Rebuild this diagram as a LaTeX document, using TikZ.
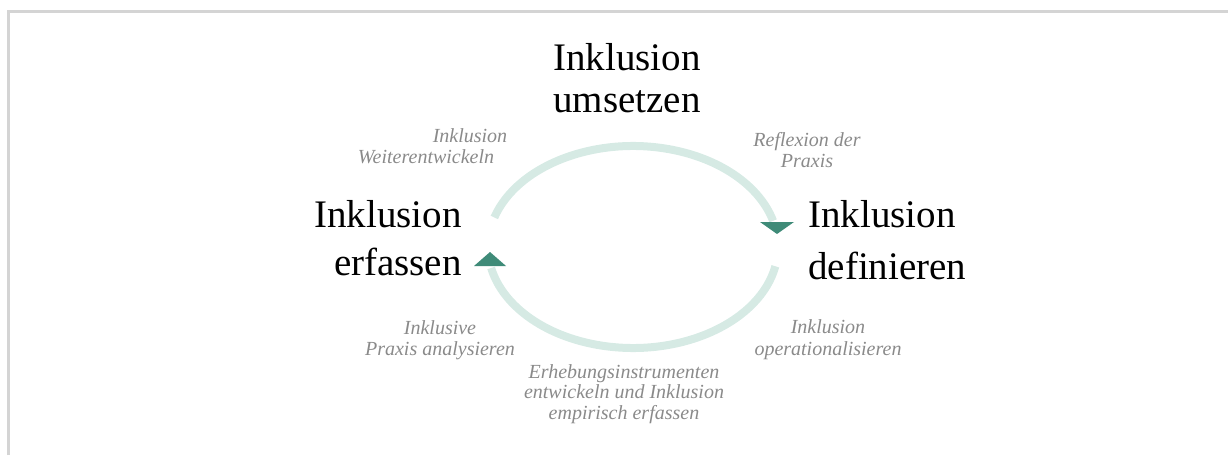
\documentclass[tikz,border=0pt]{standalone}
\usepackage{fontspec}
\setmainfont{Liberation Serif}
\definecolor{ringc}{HTML}{D6EAE4}
\definecolor{arrowc}{HTML}{3F8B78}
\definecolor{labelc}{HTML}{8A8A8A}
\definecolor{framec}{HTML}{D4D4D4}
\tikzset{
  big/.style={font=\fontsize{39}{48}\selectfont, text=black, inner sep=0pt},
  small/.style={font=\fontsize{20}{20.5}\selectfont\itshape, text=labelc, inner sep=0pt, align=center},
  ring/.style={draw=ringc, line width=8pt},
  head/.style={fill=arrowc, draw=none},
  frame/.style={draw=framec, line width=3pt}
}
\begin{document}
\begin{tikzpicture}[x=1pt,y=-1pt]
\useasboundingbox (0,0) rectangle (1228,455);
\draw[frame] (8,455) -- (8,11) -- (1228,11);
% centre of the cycle
\coordinate (c) at (633,247);
% ring arcs
\draw[ring] (c) ++(197:145 and 101) arc[start angle=197, end angle=345, x radius=145, y radius=101];
\draw[ring] (c) ++(11:145 and 101) arc[start angle=11, end angle=168, x radius=145, y radius=101];
% arrowheads
\fill[head] (760,222) -- (794,222) -- (777,234) -- cycle;
\fill[head] (474,266) -- (506,266) -- (490,252) -- cycle;
% main labels (anchor = baseline of the last line)
\node[big, align=center, anchor=base] (top) at (627,112) {Inklusion\\[-6pt]umsetzen};
\node[big, align=right, anchor=base east] (left) at (462,275) {Inklusion\\erfassen};
\node[big, align=left, anchor=base west] (right) at (808,279) {Inklusion\\[4pt]definieren};
% small labels
\node[small, anchor=base] (w1) at (470,142) {Inklusion};
\node[small, anchor=base] (w2) at (426,163) {Weiterentwickeln};
\node[small, anchor=base] (refl) at (807,167) {Reflexion der\\Praxis};
\node[small, anchor=base] (ana) at (440,355) {Inklusive\\Praxis analysieren};
\node[small, anchor=base] (op) at (828,355) {Inklusion\\[1pt]operationalisieren};
\node[small, anchor=base] (erh) at (624,419) {Erhebungsinstrumenten\\entwickeln und Inklusion\\empirisch erfassen};
\end{tikzpicture}
\end{document}
